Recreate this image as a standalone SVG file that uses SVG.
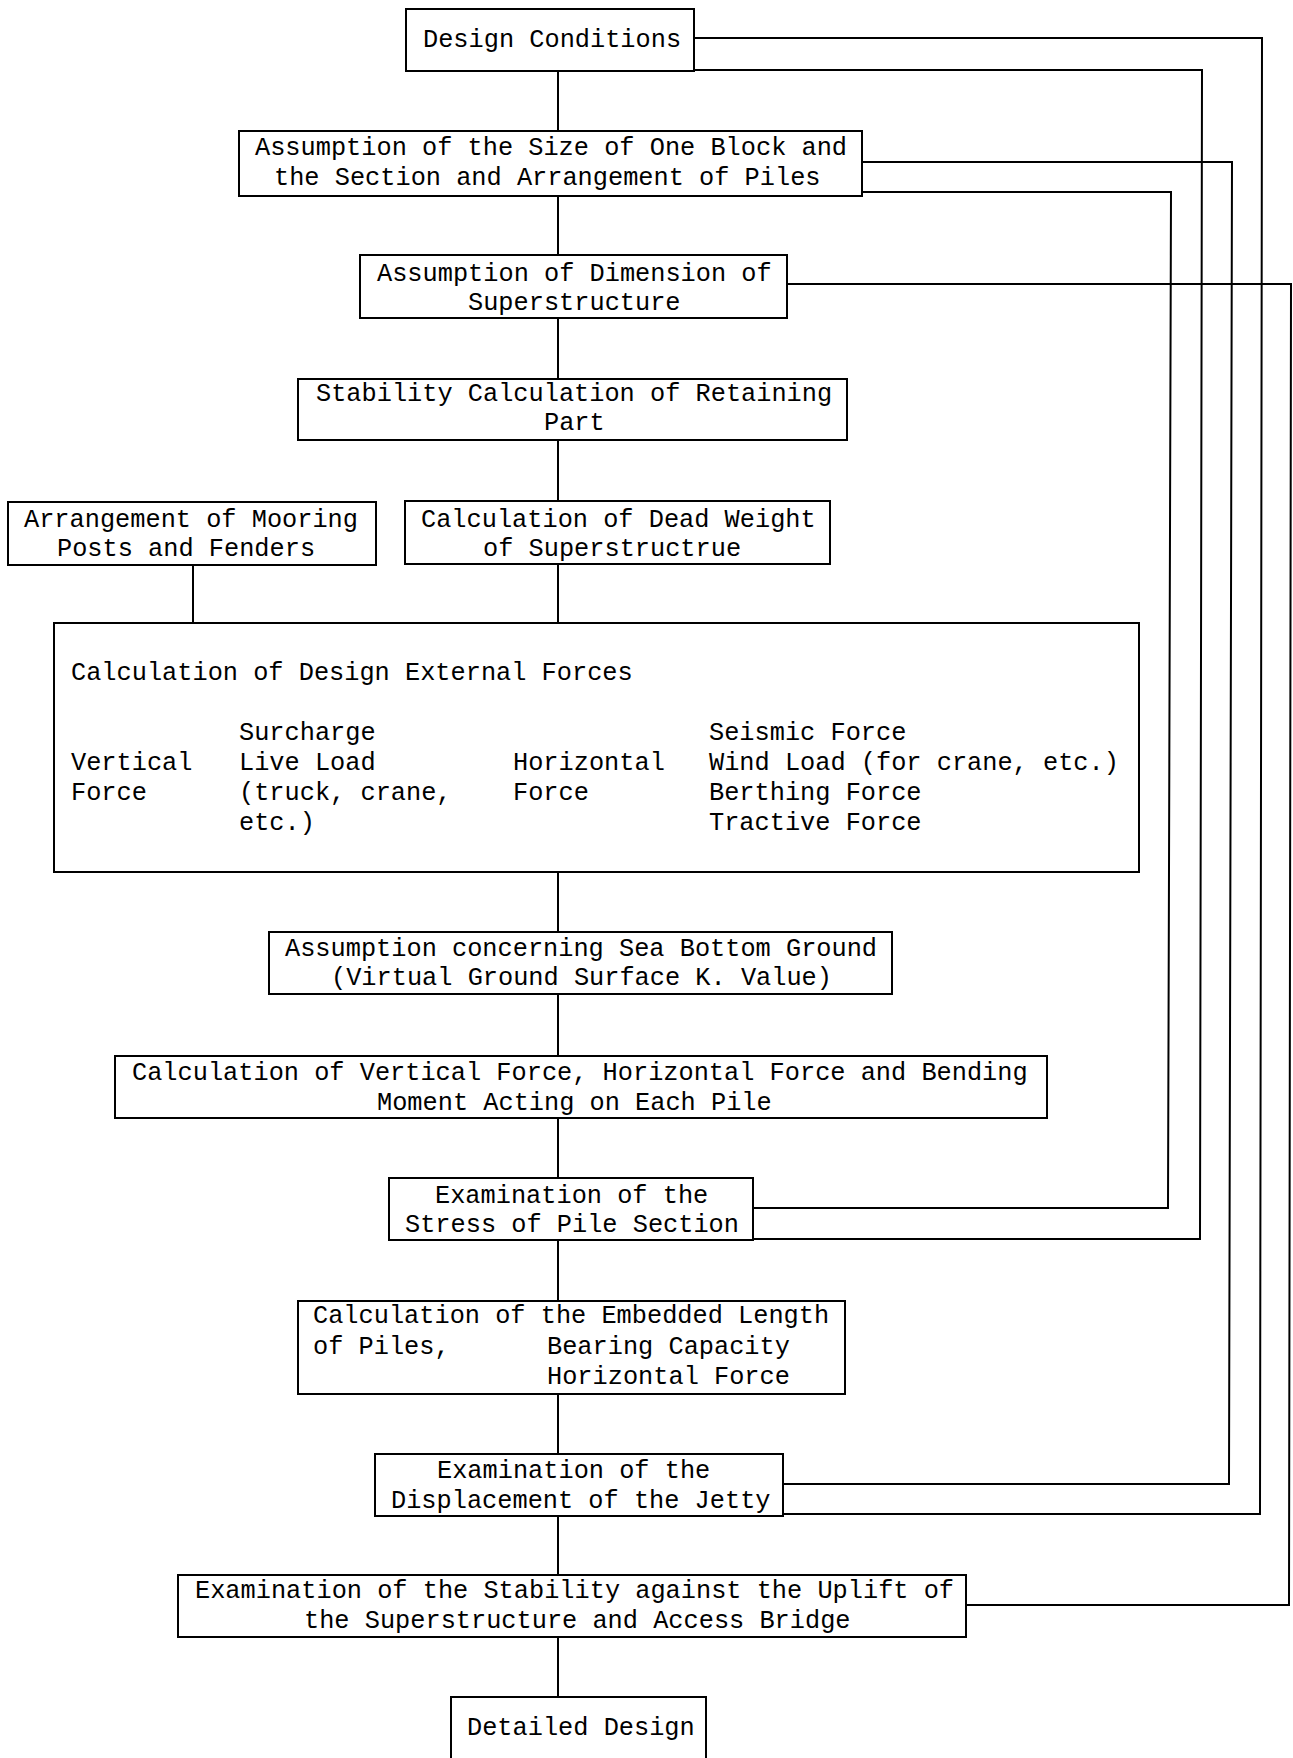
<svg xmlns="http://www.w3.org/2000/svg" width="1293" height="1758" viewBox="0 0 1293 1758">
<style>
.box{fill:#fff;stroke:#000;stroke-width:2}
.ln{fill:none;stroke:#000;stroke-width:2}
text{font-family:"Liberation Mono","DejaVu Sans Mono",monospace;font-size:25.3px;fill:#000}
</style>
<rect width="1293" height="1758" fill="#fff"/>
<g id="connectors">
<path class="ln" d="M558 71V131M558 196V255M558 318V379M558 440V501M558 564V623M193 565V623M558 872V932M558 994V1056M558 1118V1178M558 1240V1301M558 1394V1454M558 1516V1575M558 1637V1697"/>
<polyline class="ln" points="694,38 1262,38 1260,1514 783,1514"/>
<polyline class="ln" points="694,70 1202,70 1200,1239 753,1239"/>
<polyline class="ln" points="862,162 1232,162 1229,1484 783,1484"/>
<polyline class="ln" points="862,192 1171,192 1168,1208 753,1208"/>
<polyline class="ln" points="787,284 1291,284 1289,1605 966,1605"/>
</g>
<g id="design-conditions">
<rect class="box" x="406" y="9" width="288" height="62"/>
<text x="423" y="47">Design Conditions</text>
</g>
<g id="size-block">
<rect class="box" x="239" y="131" width="623" height="65"/>
<text x="255" y="155">Assumption of the Size of One Block and</text>
<text x="274" y="185">the Section and Arrangement of Piles</text>
</g>
<g id="dimension">
<rect class="box" x="360" y="255" width="427" height="63"/>
<text x="377" y="281">Assumption of Dimension of</text>
<text x="468" y="310">Superstructure</text>
</g>
<g id="stability">
<rect class="box" x="298" y="379" width="549" height="61"/>
<text x="316" y="401">Stability Calculation of Retaining</text>
<text x="544" y="430">Part</text>
</g>
<g id="mooring">
<rect class="box" x="8" y="502" width="368" height="63"/>
<text x="24" y="527">Arrangement of Mooring</text>
<text x="57" y="556">Posts and Fenders</text>
</g>
<g id="dead-weight">
<rect class="box" x="405" y="501" width="425" height="63"/>
<text x="421" y="527">Calculation of Dead Weight</text>
<text x="483" y="556">of Superstructrue</text>
</g>
<g id="external-forces">
<rect class="box" x="54" y="623" width="1085" height="249"/>
<text x="71" y="680">Calculation of Design External Forces</text>
<text x="239" y="740">Surcharge</text>
<text x="709" y="740">Seismic Force</text>
<text x="71" y="770">Vertical</text>
<text x="239" y="770">Live Load</text>
<text x="513" y="770">Horizontal</text>
<text x="709" y="770">Wind Load (for crane, etc.)</text>
<text x="71" y="800">Force</text>
<text x="239" y="800">(truck, crane,</text>
<text x="513" y="800">Force</text>
<text x="709" y="800">Berthing Force</text>
<text x="239" y="830">etc.)</text>
<text x="709" y="830">Tractive Force</text>
</g>
<g id="sea-bottom">
<rect class="box" x="269" y="932" width="623" height="62"/>
<text x="285" y="956">Assumption concerning Sea Bottom Ground</text>
<text x="331" y="985">(Virtual Ground Surface K. Value)</text>
</g>
<g id="pile-forces">
<rect class="box" x="115" y="1056" width="932" height="62"/>
<text x="132" y="1080">Calculation of Vertical Force, Horizontal Force and Bending</text>
<text x="377" y="1110">Moment Acting on Each Pile</text>
</g>
<g id="stress">
<rect class="box" x="389" y="1178" width="364" height="62"/>
<text x="435" y="1203">Examination of the</text>
<text x="405" y="1232">Stress of Pile Section</text>
</g>
<g id="embedded">
<rect class="box" x="298" y="1301" width="547" height="93"/>
<text x="313" y="1323">Calculation of the Embedded Length</text>
<text x="313" y="1354">of Piles,</text>
<text x="547" y="1354">Bearing Capacity</text>
<text x="547" y="1384">Horizontal Force</text>
</g>
<g id="displacement">
<rect class="box" x="375" y="1454" width="408" height="62"/>
<text x="437" y="1478">Examination of the</text>
<text x="391" y="1508">Displacement of the Jetty</text>
</g>
<g id="uplift">
<rect class="box" x="178" y="1575" width="788" height="62"/>
<text x="195" y="1598">Examination of the Stability against the Uplift of</text>
<text x="304" y="1628">the Superstructure and Access Bridge</text>
</g>
<g id="detailed-design">
<rect class="box" x="451" y="1697" width="255" height="70"/>
<text x="467" y="1735">Detailed Design</text>
</g>
</svg>
